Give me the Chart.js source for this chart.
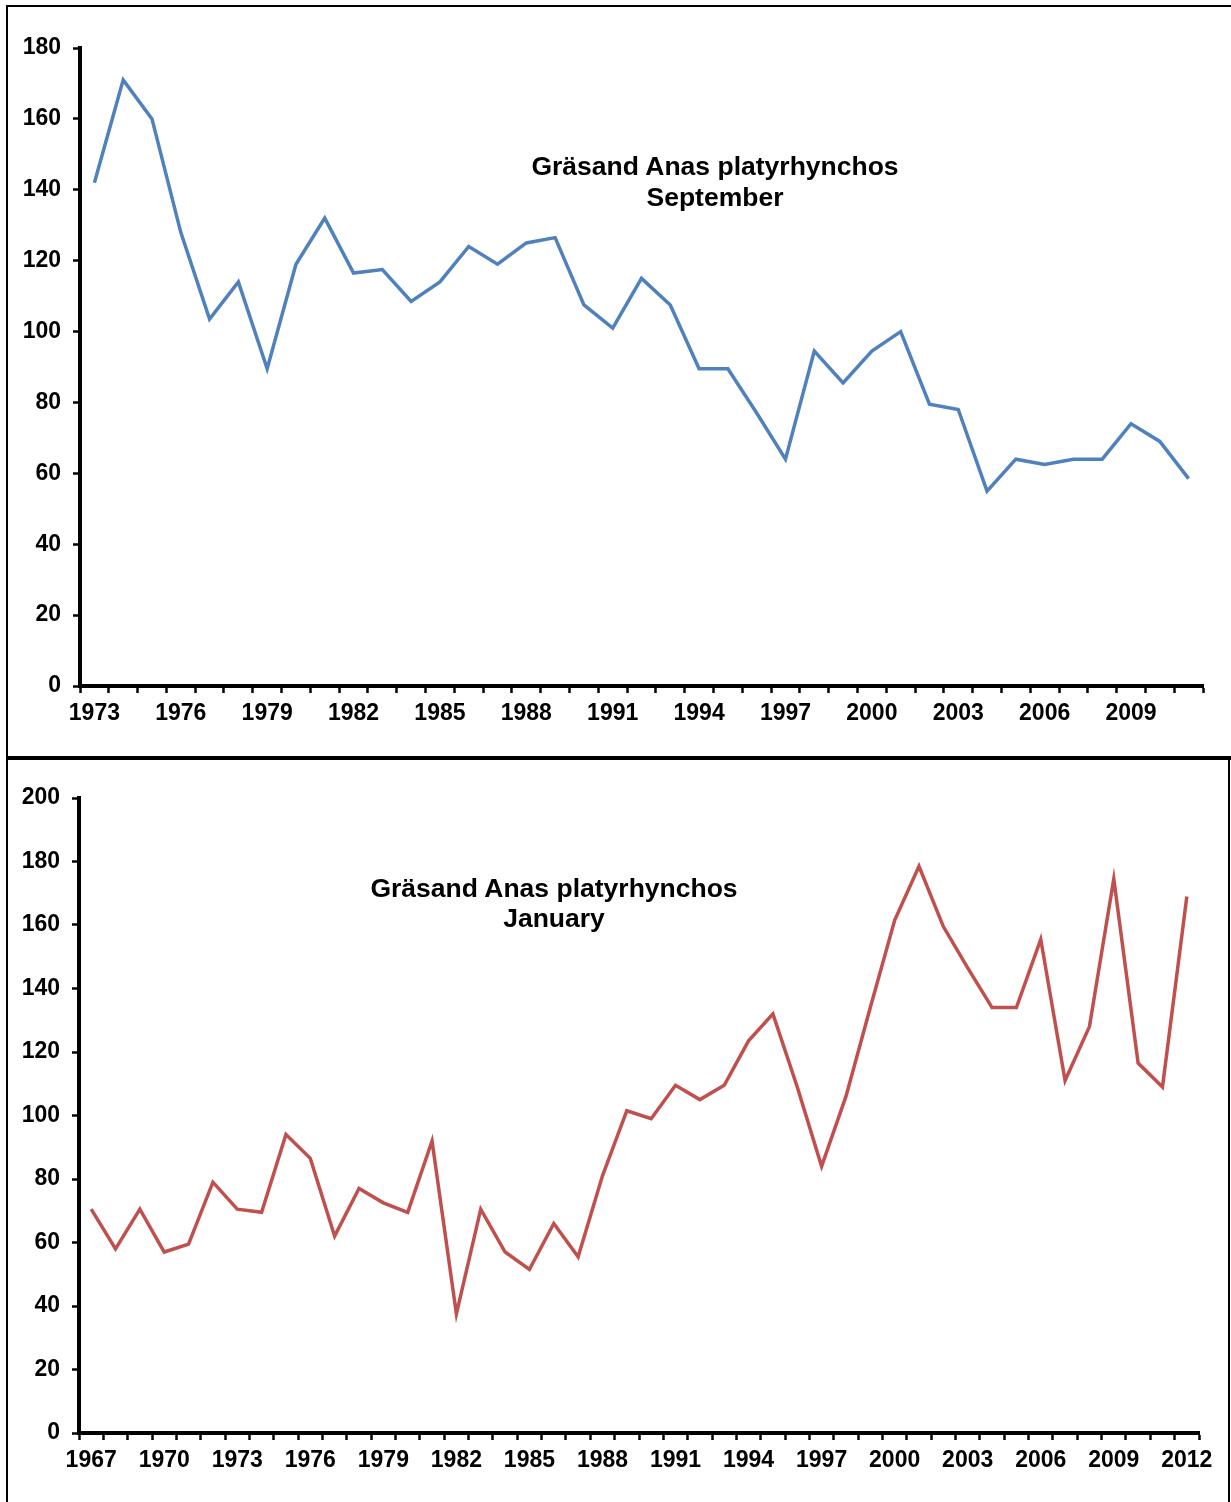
<!DOCTYPE html>
<html lang="sv">
<head>
<meta charset="utf-8">
<title>Gräsand Anas platyrhynchos</title>
<script src="https://cdn.jsdelivr.net/npm/chart.js@4.4.1/dist/chart.umd.min.js"></script>
<style>
  html, body { margin: 0; padding: 0; background: #fff; }
  body { position: relative; width: 1231px; height: 1502px; overflow: hidden; }
  canvas { position: absolute; left: 0; }
  #septChart { top: 0; }
  #janChart  { top: 757px; }
  .frame { position: absolute; box-sizing: border-box; border: 2px solid #000; pointer-events: none; }
  #frameTop    { left: 6px; top: 5px; width: 1300px; height: 755px; border-bottom-width: 4px; }
  #frameBottom { left: 6px; top: 759px; width: 1224px; height: 800px; border-top: none; }
  .title {
    position: absolute; width: 600px; text-align: center; color: #000;
    font-family: 'Liberation Sans', Arial, sans-serif; font-weight: bold; font-size: 26.5px;
  }
  #titleSept { left: 415px; top: 151px; line-height: 31px; }
  #titleJan  { left: 254px; top: 873px; line-height: 30px; }
</style>
</head>
<body>
<canvas id="septChart" width="1231" height="757"></canvas>
<canvas id="janChart" width="1231" height="745"></canvas>
<div class="frame" id="frameTop"></div>
<div class="frame" id="frameBottom"></div>
<div class="title" id="titleSept">Gräsand Anas platyrhynchos<br>September</div>
<div class="title" id="titleJan">Gräsand Anas platyrhynchos<br>January</div>

<script>
'use strict';

// ── DATA ──────────────────────────────────────────────────────

// September count, 1973–2011
const SEPT_YEARS = [
  '1973', '1974', '1975', '1976', '1977', '1978', '1979', '1980', '1981', '1982',
  '1983', '1984', '1985', '1986', '1987', '1988', '1989', '1990', '1991', '1992',
  '1993', '1994', '1995', '1996', '1997', '1998', '1999', '2000', '2001', '2002',
  '2003', '2004', '2005', '2006', '2007', '2008', '2009', '2010', '2011',
];
const SEPT_VALUES = [
  142, 171, 160, 128, 103.5, 114, 89.5, 119, 132, 116.5,
  117.5, 108.5, 114, 124, 119, 125, 126.5, 107.5, 101, 115,
  107.5, 89.5, 89.5, 77, 64, 94.5, 85.5, 94.5, 100, 79.5,
  78, 55, 64, 62.5, 64, 64, 74, 69, 58.5,
];

// January count, 1967–2012
const JAN_YEARS = [
  '1967', '1968', '1969', '1970', '1971', '1972', '1973', '1974', '1975', '1976',
  '1977', '1978', '1979', '1980', '1981', '1982', '1983', '1984', '1985', '1986',
  '1987', '1988', '1989', '1990', '1991', '1992', '1993', '1994', '1995', '1996',
  '1997', '1998', '1999', '2000', '2001', '2002', '2003', '2004', '2005', '2006',
  '2007', '2008', '2009', '2010', '2011', '2012',
];
const JAN_VALUES = [
  70.5, 58, 70.5, 57, 59.5, 79, 70.5, 69.5, 94, 86.5,
  62, 77, 72.5, 69.5, 92, 37.5, 70.5, 57, 51.5, 66,
  55.5, 81, 101.5, 99, 109.5, 105, 109.5, 123.5, 132, 109,
  84, 106, 134, 161.5, 178.5, 159.5, 146.5, 134, 134, 155.5,
  111, 128, 174.5, 116.5, 109, 169,
];

const TICK_FONT = { family: "'Liberation Sans', Arial, sans-serif", size: 23, weight: 'bold' };

// ── CHART ─────────────────────────────────────────────────────

/**
 * Excel-style line chart: outside ticks, labels every third year,
 * no gridlines. `area` is the wanted plot box in canvas pixels.
 */
function yearChart(id, years, values, color, yMax, area) {
  const canvas = document.getElementById(id);
  const axisBorder = { display: true, color: '#000', width: 4 };

  return new Chart(canvas, {
    type: 'line',
    data: {
      labels: years,
      datasets: [{
        data: values,
        borderColor: color,
        borderWidth: 3.5,
        pointRadius: 0,
        tension: 0,
        fill: false,
      }],
    },
    options: {
      responsive: false,
      animation: false,
      devicePixelRatio: 1,
      layout: {
        padding: { left: 0, top: area.top, right: canvas.width - area.right, bottom: 0 },
      },
      plugins: {
        legend: { display: false },
        tooltip: { enabled: false },
      },
      scales: {
        x: {
          offset: true,
          grid: {
            offset: true,
            drawOnChartArea: false,
            tickLength: 7,
            tickWidth: 2.5,
            tickColor: '#000',
          },
          border: axisBorder,
          ticks: {
            autoSkip: false,
            maxRotation: 0,
            minRotation: 0,
            padding: 7,
            color: '#000',
            font: TICK_FONT,
            callback: (v, i) => (i % 3 === 0 ? years[i] : ''),
          },
          afterFit: s => { s.height = canvas.height - area.bottom; },
        },
        y: {
          min: 0,
          max: yMax,
          grid: {
            drawOnChartArea: false,
            tickLength: 7,
            tickWidth: 2.5,
            tickColor: '#000',
          },
          border: axisBorder,
          ticks: {
            stepSize: 20,
            padding: 12,
            color: '#000',
            font: TICK_FONT,
          },
          afterFit: s => { s.width = area.left; },
        },
      },
    },
  });
}

yearChart('septChart', SEPT_YEARS, SEPT_VALUES, '#4F81BD', 180,
  { left: 80, top: 48, right: 1203, bottom: 686 });

yearChart('janChart', JAN_YEARS, JAN_VALUES, '#C0504D', 200,
  { left: 79, top: 41, right: 1199, bottom: 676 });
</script>
</body>
</html>
